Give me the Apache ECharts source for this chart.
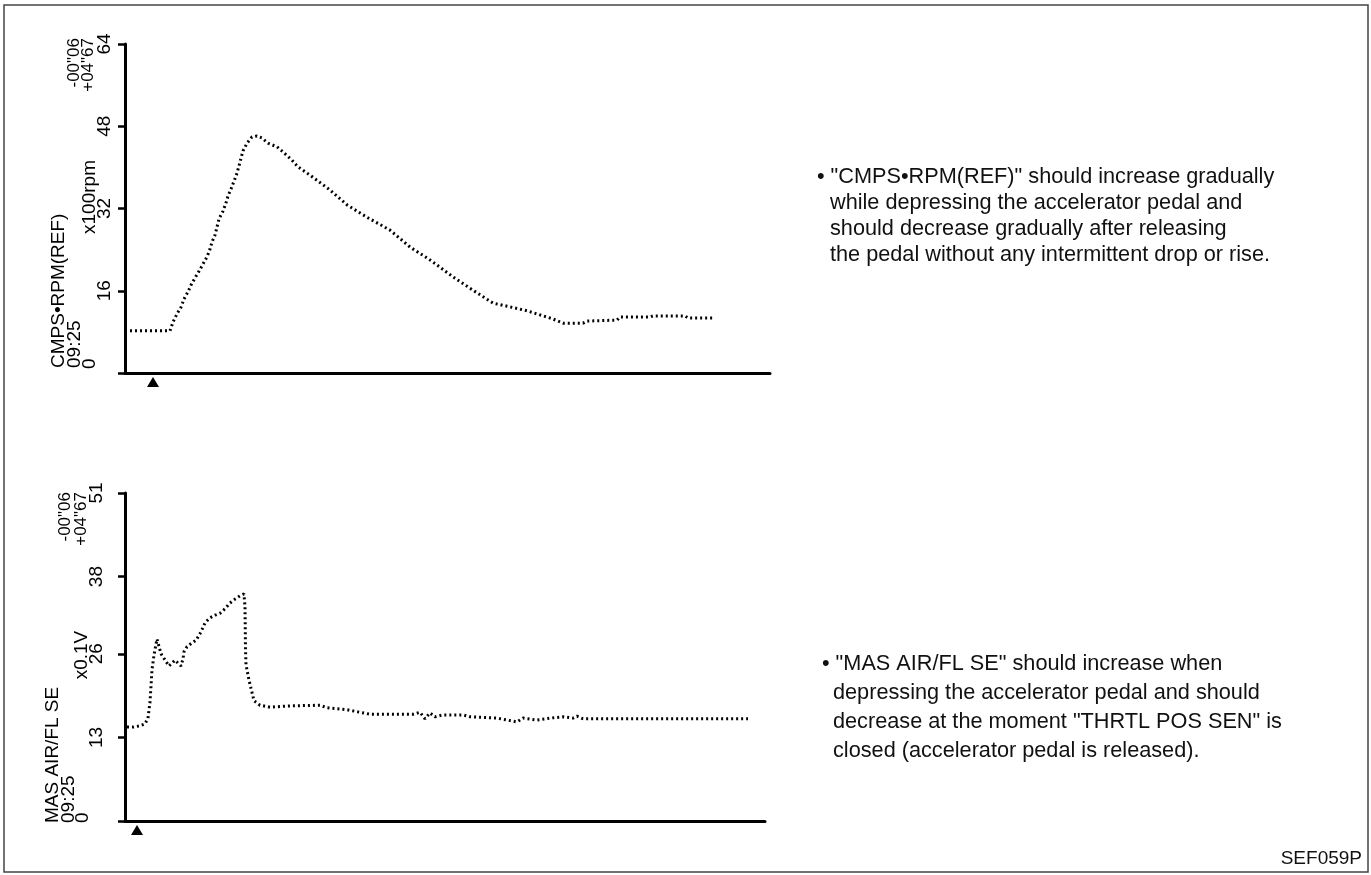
<!DOCTYPE html>
<html>
<head>
<meta charset="UTF-8">
<script src="https://cdn.jsdelivr.net/npm/echarts@6/dist/echarts.min.js"></script>
<style>
  html, body { margin: 0; padding: 0; background: #fff; }
  #main { width: 1371px; height: 875px; }
</style>
</head>
<body>
<div id="main"></div>
<script>
// time in 0.1 s steps
var rpmTime = [0, 9, 9.6, 10.4, 11.2, 11.8, 12.6, 13.2, 14, 14.8, 15.6, 16.4, 17, 17.4, 18, 18.4, 18.8,
  19.6, 20.2, 20.6, 21.2, 21.8, 22.4, 22.8, 23.2, 23.6, 24.4, 25.4, 26.4, 27.4, 28.6, 30.4, 31.6,
  33.4, 34.6, 37, 41, 44.4, 48.4, 53, 57, 61, 65.6, 69.6, 73.6, 76.4, 80.4, 83, 85.6, 87.6, 91.6,
  92.4, 98.4, 99, 105, 105.6, 112, 112.6, 118];
var rpmVal = [8.2, 8.2, 9.9, 11.5, 12.8, 14.4, 15.8, 17.1, 18.5, 19.8, 21.2, 22.6, 24.1, 25.5, 26.8, 28.4, 30.0,
  31.5, 33.1, 34.4, 35.8, 37.3, 38.9, 40.3, 41.8, 43.2, 44.7, 45.9, 46.1, 45.7, 44.7, 44.0, 43.0,
  41.4, 40.1, 38.5, 35.6, 32.7, 30.3, 27.8, 24.5, 22.0, 18.7, 16.1, 13.6, 13.0, 12.1, 11.3, 10.5, 9.7, 9.7,
  10.1, 10.3, 10.9, 10.9, 11.1, 11.1, 10.7, 10.7];

var mafTime = [0.4, 1.6, 3, 4, 4.6, 5, 5.2, 5.4, 5.8, 6.4, 7.2, 8.8, 10, 11.2, 11.6, 11.8, 12.4, 13.4, 14.2,
  15.2, 16, 17, 18, 19, 20, 21, 22, 23, 23.8, 24, 24.1, 24.2, 24.8, 25.8, 27, 29, 33, 39, 40.4, 44.4,
  49, 57.6, 59, 60, 61, 62, 63.6, 67.6, 69, 74.4, 78.4, 79.6, 82.4, 85, 87.6, 89.6, 90.4, 91.6, 124.6];
var mafVal = [14.6, 14.6, 14.8, 15.1, 16.0, 18.5, 21.0, 23.5, 25.8, 28.3, 26.0, 24.1, 25.0, 24.1, 25.2, 26.3, 27.1, 27.7, 28.1,
  29.4, 30.8, 31.6, 32.0, 32.3, 33.0, 33.9, 34.5, 35.0, 35.3, 33.3, 26.7, 24.3, 21.9, 18.7, 18.0, 17.7, 17.9, 18.0, 17.6, 17.3,
  16.6, 16.6, 16.9, 15.9, 16.8, 16.2, 16.5, 16.5, 16.2, 16.0, 15.4, 16.0, 15.7, 16.0, 16.2, 16.0, 16.3, 15.9, 15.9];

var rpmTicks = [0, 16, 32, 48, 64];
var mafTicks = [0, 13, 26, 38, 51];
var pedalTime = [5.6, 2.4];   // triangle markers (pedal depressed)

var topNotes = [
  '\u2022 "CMPS\u2022RPM(REF)" should increase gradually',
  'while depressing the accelerator pedal and',
  'should decrease gradually after releasing',
  'the pedal without any intermittent drop or rise.'
];
var bottomNotes = [
  '\u2022 "MAS AIR/FL SE" should increase when',
  'depressing the accelerator pedal and should',
  'decrease at the moment "THRTL POS SEN" is',
  'closed (accelerator pedal is released).'
];

function pairs(xs, ys) {
  var out = [];
  for (var i = 0; i < xs.length; i++) out.push([xs[i], ys[i]]);
  return out;
}

var FONT = '"Liberation Sans", Arial, sans-serif';

function vtext(x, y, txt, align, size) {
  return {
    type: 'text', x: x, y: y, rotation: Math.PI / 2,
    style: { text: txt, font: (size || 19) + 'px ' + FONT, fill: '#000', align: align, verticalAlign: 'middle' }
  };
}
function htext(x, y, txt, size, align) {
  return {
    type: 'text', x: x, y: y,
    style: { text: txt, font: (size || 21.7) + 'px ' + FONT, fill: '#111', align: align || 'left', verticalAlign: 'middle' }
  };
}

var graphics = [
  { type: 'rect', shape: { x: 4, y: 5, width: 1364, height: 867 }, style: { fill: null, stroke: '#444', lineWidth: 1.5 } },
  vtext(59, 368, 'CMPS\u2022RPM(REF)', 'left'),
  vtext(75, 368, '09:25', 'left'),
  vtext(90, 369, '0', 'left'),
  vtext(90, 197, 'x100rpm', 'center'),
  vtext(74, 38, '-00"06', 'right', 17),
  vtext(88, 38, '+04"67', 'right', 17),
  vtext(53, 823, 'MAS AIR/FL SE', 'left'),
  vtext(69, 823, '09:25', 'left'),
  vtext(83, 823, '0', 'left'),
  vtext(82, 655, 'x0.1V', 'center'),
  vtext(65, 492, '-00"06', 'right', 17),
  vtext(81, 492, '+04"67', 'right', 17),
  htext(1362, 859, 'SEF059P', 19, 'right')
];
topNotes.forEach(function (s, i) { graphics.push(htext(i === 0 ? 817 : 830, 177 + i * 26, s)); });
bottomNotes.forEach(function (s, i) { graphics.push(htext(i === 0 ? 822 : 833, 664 + i * 29, s)); });

var axisLineStyle = { show: true, lineStyle: { color: '#000', width: 3 } };
var traceStyle = { color: '#000', width: 3, type: [2, 3] };

var chart = echarts.init(document.getElementById('main'));
chart.setOption({
  animation: false,
  backgroundColor: '#fff',
  grid: [
    { left: 125, top: 44, width: 645, height: 329 },
    { left: 125, top: 493, width: 640, height: 328 }
  ],
  xAxis: [
    { type: 'value', gridIndex: 0, min: 0, max: 129, axisLine: axisLineStyle, axisTick: { show: false },
      axisLabel: { show: false }, splitLine: { show: false } },
    { type: 'value', gridIndex: 1, min: 0, max: 128, axisLine: axisLineStyle, axisTick: { show: false },
      axisLabel: { show: false }, splitLine: { show: false } }
  ],
  yAxis: [
    { type: 'value', gridIndex: 0, min: 0, max: 64, interval: 16, axisLine: axisLineStyle,
      axisTick: { show: true, length: 7, lineStyle: { color: '#000', width: 2.5 } },
      axisLabel: { rotate: 90, margin: 11, color: '#000', fontSize: 19, fontFamily: FONT,
        customValues: rpmTicks.slice(1) },
      splitLine: { show: false } },
    { type: 'value', gridIndex: 1, min: 0, max: 51, axisLine: axisLineStyle,
      axisTick: { show: true, length: 7, lineStyle: { color: '#000', width: 2.5 }, customValues: mafTicks },
      axisLabel: { rotate: 90, margin: 19, color: '#000', fontSize: 19, fontFamily: FONT,
        customValues: mafTicks.slice(1) },
      splitLine: { show: false } }
  ],
  series: [
    {
      type: 'line', xAxisIndex: 0, yAxisIndex: 0, data: pairs(rpmTime, rpmVal),
      showSymbol: false, smooth: false, lineStyle: traceStyle,
      markPoint: {
        symbol: 'triangle', symbolSize: [12, 10], symbolOffset: [0, 9],
        itemStyle: { color: '#000' }, label: { show: false },
        data: [{ coord: [pedalTime[0], 0] }]
      }
    },
    {
      type: 'line', xAxisIndex: 1, yAxisIndex: 1, data: pairs(mafTime, mafVal),
      showSymbol: false, smooth: false, lineStyle: traceStyle,
      markPoint: {
        symbol: 'triangle', symbolSize: [12, 10], symbolOffset: [0, 9],
        itemStyle: { color: '#000' }, label: { show: false },
        data: [{ coord: [pedalTime[1], 0] }]
      }
    }
  ],
  graphic: graphics
});
</script>
</body>
</html>
